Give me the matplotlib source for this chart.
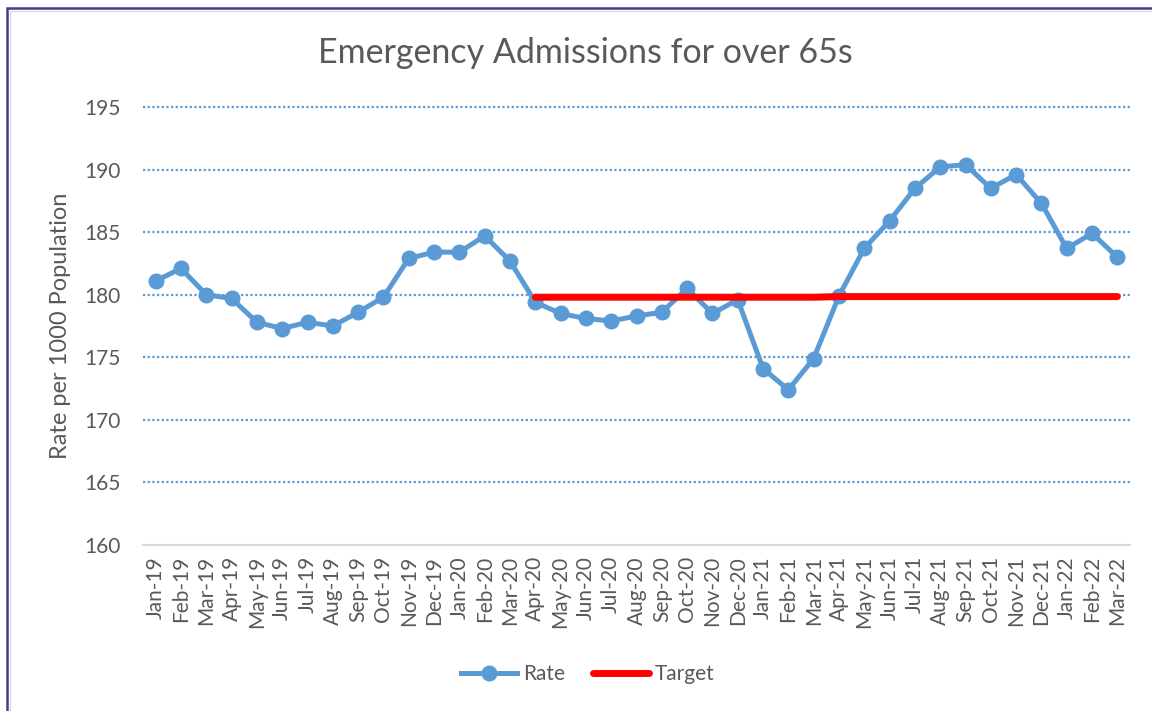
import matplotlib
matplotlib.use("Agg")
import matplotlib.pyplot as plt
from matplotlib.patches import Rectangle
from matplotlib.lines import Line2D

months = ["Jan-19", "Feb-19", "Mar-19", "Apr-19", "May-19", "Jun-19", "Jul-19", "Aug-19",
          "Sep-19", "Oct-19", "Nov-19", "Dec-19", "Jan-20", "Feb-20", "Mar-20", "Apr-20",
          "May-20", "Jun-20", "Jul-20", "Aug-20", "Sep-20", "Oct-20", "Nov-20", "Dec-20",
          "Jan-21", "Feb-21", "Mar-21", "Apr-21", "May-21", "Jun-21", "Jul-21", "Aug-21",
          "Sep-21", "Oct-21", "Nov-21", "Dec-21", "Jan-22", "Feb-22", "Mar-22"]
rate = [181.1, 182.1, 180.0, 179.7, 177.8, 177.3, 177.8, 177.5,
        178.6, 179.8, 182.9, 183.4, 183.4, 184.7, 182.7, 179.4,
        178.5, 178.1, 177.9, 178.3, 178.6, 180.5, 178.5, 179.6,
        174.1, 172.4, 174.9, 179.9, 183.7, 185.9, 188.5, 190.2,
        190.4, 188.5, 189.6, 187.3, 183.7, 184.9, 183.0]
target_months = months[15:]
target = [179.8] * 12 + [179.85] * 12

plt.rcParams['font.family'] = ['Lato', 'DejaVu Sans']
grey = "#595959"
blue = "#5B9BD5"

fig = plt.figure(figsize=(11.52, 7.11), dpi=100)
ax = fig.add_axes([143/1152, 1 - 545/711, (1130 - 143)/1152, (545 - 107)/711])

x = list(range(len(months)))
ax.plot(x, rate, color=blue, lw=3.6, marker='o', markersize=10.5, label="Rate",
        solid_capstyle='round', solid_joinstyle='round', zorder=3)
tx = [months.index(m) for m in target_months]
ax.plot(tx, target, color="#FF0000", lw=5, label="Target", solid_capstyle='round', zorder=4)

ax.set_xlim(-0.5, len(months) - 0.5)
ax.set_ylim(160, 195)
ax.set_yticks(range(160, 196, 5))
ax.set_xticks(x)
ax.set_xticklabels(months, rotation=90, fontsize=15, color=grey)
ax.tick_params(axis='y', labelsize=15, colors=grey, length=0, pad=16)
ax.tick_params(axis='x', length=0, pad=8)
for spine in ['top', 'right', 'left']:
    ax.spines[spine].set_visible(False)
ax.spines['bottom'].set_color('#D9D9D9')
ax.spines['bottom'].set_linewidth(1.5)
for yv in range(165, 196, 5):
    ax.axhline(yv, color=blue, lw=1.6, linestyle=(0, (1, 1.1)), zorder=1, clip_on=False)

ax.set_ylabel("Rate per 1000 Population", fontsize=17, color=grey, labelpad=10)
fig.text(585/1152, 1 - 53/711, "Emergency Admissions for over 65s", fontsize=24.5,
         color=grey, ha='center', va='center')

handles = [Line2D([0], [0], color=blue, lw=3.6, marker='o', markersize=10.5),
           Line2D([0], [0], color="#FF0000", lw=5, solid_capstyle='round')]
fig.legend(handles, ["Rate", "Target"], loc='center', bbox_to_anchor=(588/1152, 1 - 674/711),
           ncol=2, frameon=False, fontsize=15, labelcolor=grey, handlelength=2.7,
           columnspacing=1.3, handletextpad=0.3)

# chart frame
fig.patches.append(Rectangle((7/1152, -0.1), 1.2, 1 - 8/711 + 0.1, transform=fig.transFigure,
                             fill=False, edgecolor="#3F3F8F", lw=1.8, zorder=0))
fig.patches.append(Rectangle((10/1152, -0.1), 1.2, 1 - 11/711 + 0.1, transform=fig.transFigure,
                             fill=False, edgecolor="#D9D9D9", lw=1.0, zorder=0))

fig.savefig("out.png", dpi=100)
